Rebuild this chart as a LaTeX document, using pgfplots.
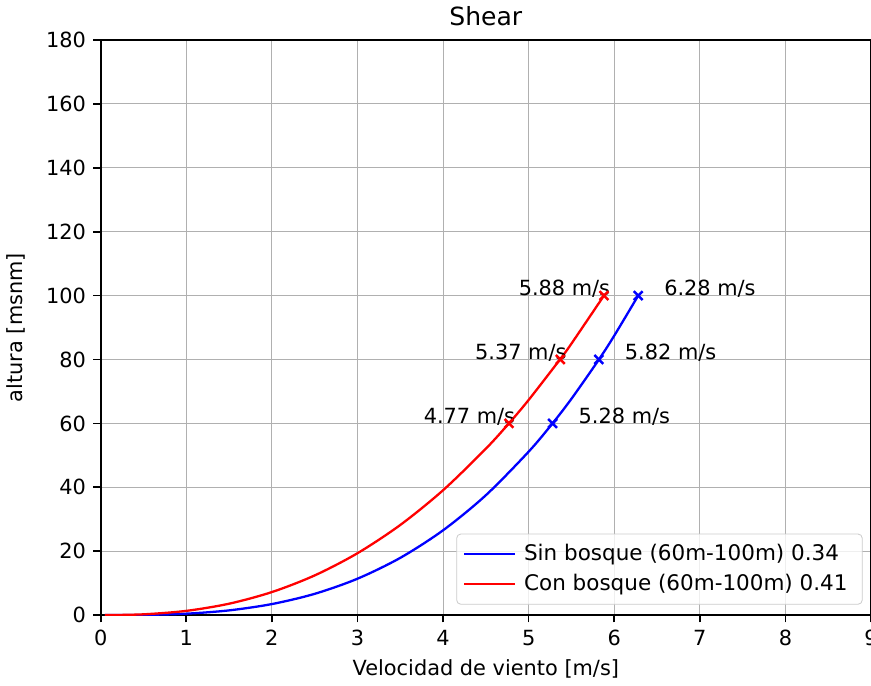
\documentclass[border=0pt]{standalone}
\usepackage{fontspec}
\setmainfont{DejaVu Sans}
\usepackage{pgfplots}
\pgfplotsset{compat=1.18}
\definecolor{mplgrid}{HTML}{B0B0B0}

\begin{document}
\begin{tikzpicture}[trim axis right]
\begin{axis}[
  scale only axis, width=369pt, height=275.5pt,
  xmin=0, xmax=9, ymin=0, ymax=180,
  xtick={0,1,...,9}, ytick={0,20,...,180},
  grid=major, grid style={mplgrid, line width=0.5pt},
  axis line style={line width=0.8pt},
  tick align=outside, tick pos=left,
  major tick length=3.5pt,
  every tick/.style={black, line width=0.8pt},
  /pgf/number format/assume math mode=true,
  tick label style={font=\fontsize{10}{12}\selectfont},
  label style={font=\fontsize{10}{12}\selectfont},
  ylabel shift=3pt,
  title style={font=\fontsize{12}{14}\selectfont, yshift=-3pt},
  title={Shear},
  xlabel={Velocidad de viento [m/s]},
  ylabel={altura [msnm]},
  legend cell align=left,
  legend style={at={(1,0)}, anchor=south east, xshift=-4pt, yshift=5pt,
    draw=black!20, rounded corners=2pt, fill=white, fill opacity=0.8, text opacity=1,
    font=\fontsize{10.3}{12}\selectfont, row sep=1pt, inner sep=3pt,
    nodes={inner xsep=4pt}},
  legend image code/.code={\draw[#1] (-0.1cm,0cm) -- (0.75cm,0cm);},
]
% power-law profiles
\addplot[blue, line width=1.1pt, smooth] coordinates {
 (0.05,0) (0.5,0.06) (1,0.45) (1.5,1.48) (2,3.46) (2.5,6.66) (3,11.39)
 (3.5,17.92) (4,26.54) (4.5,37.52) (5,51.15) (5.28,60.04) (5.5,67.70)
 (5.82,79.95) (6,87.45) (6.28,100)};
\addlegendentry{Sin bosque (60m-100m) 0.34}
\addplot[red, line width=1.1pt, smooth] coordinates {
 (0.05,0) (0.5,0.25) (1,1.33) (1.5,3.57) (2,7.21) (2.5,12.42) (3,19.37)
 (3.5,28.21) (4,39.08) (4.5,52.08) (4.77,60.03) (5,67.34) (5.37,80.15)
 (5.5,84.96) (5.88,100)};
\addlegendentry{Con bosque (60m-100m) 0.41}
\addplot[blue, only marks, mark=x, mark size=3pt, line width=1.2pt, forget plot]
  coordinates {(5.28,60) (5.82,80) (6.28,100)};
\addplot[red, only marks, mark=x, mark size=3pt, line width=1.2pt, forget plot]
  coordinates {(4.77,60) (5.37,80) (5.88,100)};
\begin{scope}[every node/.style={anchor=base west, inner sep=0pt, font=\fontsize{10}{12}\selectfont}]
\node at (axis cs:6.58,100) {6.28 m/s};
\node at (axis cs:6.12,80) {5.82 m/s};
\node at (axis cs:5.58,60) {5.28 m/s};
\node at (axis cs:4.88,100) {5.88 m/s};
\node at (axis cs:4.37,80) {5.37 m/s};
\node at (axis cs:3.77,60) {4.77 m/s};
\end{scope}
\end{axis}
\end{tikzpicture}
\end{document}
